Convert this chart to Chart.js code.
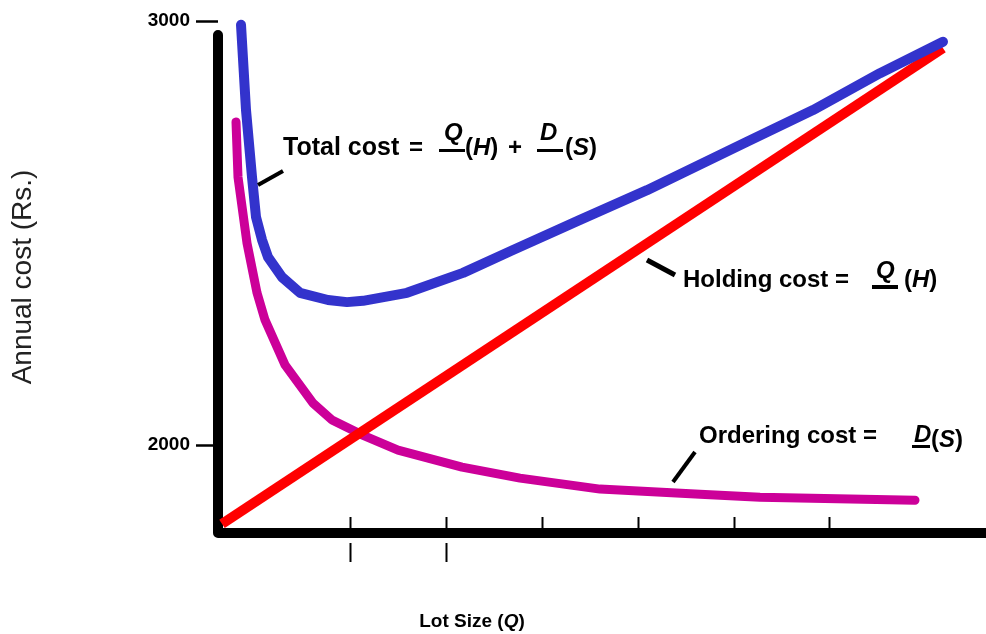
<!DOCTYPE html>
<html><head><meta charset="utf-8">
<script src="https://cdn.jsdelivr.net/npm/chart.js@4/dist/chart.umd.min.js"></script>
<style>html,body{margin:0;padding:0;background:#fff;}#wrap{width:986px;height:634px;}</style>
</head><body><div id="wrap"><canvas id="c" width="986" height="634"></canvas></div>
<script>
// Lot size (arbitrary units along the axis) and annual cost (Rs.)
const totalQ    = [23, 28, 34, 38, 44, 50, 64, 82, 110, 129, 145, 189, 245, 295, 362, 429, 529, 595, 662, 725];
const totalCost = [2991, 2790, 2632, 2538, 2484, 2443, 2396, 2359, 2342, 2337, 2340, 2359, 2406, 2460, 2531, 2601, 2715, 2790, 2877, 2951];
const orderQ    = [18, 20, 29, 39, 47, 67, 95, 114, 144, 180, 244, 302, 382, 482, 542, 697];
const orderCost = [2762, 2632, 2476, 2359, 2295, 2189, 2099, 2059, 2024, 1988, 1948, 1922, 1896, 1884, 1877, 1870];
const holdQ     = [4, 725];
const holdCost  = [1814, 2936];
const yTicks    = [2000, 3000];
const xTicks    = [132, 228, 324, 420, 516, 611];
const xTicksBelow = [132, 228];

const FONT = '"Liberation Sans", Arial, Helvetica, sans-serif';
Chart.defaults.font.family = FONT;

function pts(xs, ys){ return xs.map((x,i)=>({x:x, y:ys[i]})); }

function runs(ctx, x, y, size, parts){
  let cx = x;
  for (const [t, it] of parts){
    ctx.font = (it ? 'italic ' : '') + 'bold ' + size + 'px ' + FONT;
    ctx.fillText(t, cx, y);
    cx += ctx.measureText(t).width;
  }
  return cx;
}
function runsWidth(ctx, size, parts){
  let w = 0;
  for (const [t, it] of parts){
    ctx.font = (it ? 'italic ' : '') + 'bold ' + size + 'px ' + FONT;
    w += ctx.measureText(t).width;
  }
  return w;
}
function seg(ctx, x1, y1, x2, y2, w){
  ctx.lineWidth = w; ctx.beginPath(); ctx.moveTo(x1,y1); ctx.lineTo(x2,y2); ctx.stroke();
}

const axesPlugin = {
  id: 'axesPlugin',
  beforeDatasetsDraw(chart){
    const {ctx, chartArea, scales} = chart;
    const xs = scales.x;
    ctx.save();
    ctx.strokeStyle = '#000';
    ctx.lineWidth = 10; ctx.lineCap = 'round'; ctx.lineJoin = 'round';
    ctx.beginPath();
    ctx.moveTo(chartArea.left, chartArea.top + 14);
    ctx.lineTo(chartArea.left, chartArea.bottom);
    ctx.lineTo(chartArea.right + 10, chartArea.bottom);
    ctx.stroke();
    ctx.lineCap = 'butt';
    for (const v of xTicks){
      const px = Math.round(xs.getPixelForValue(v)) + 0.5;
      seg(ctx, px, chartArea.bottom - 16, px, chartArea.bottom - 4, 2);
    }
    for (const v of xTicksBelow){
      const px = Math.round(xs.getPixelForValue(v)) + 0.5;
      seg(ctx, px, chartArea.bottom + 10, px, chartArea.bottom + 29, 2);
    }
    ctx.restore();
  },
  afterDraw(chart){
    const {ctx} = chart;
    ctx.save();
    ctx.fillStyle = '#000'; ctx.strokeStyle = '#000';
    ctx.textBaseline = 'alphabetic'; ctx.textAlign = 'left';
    ctx.lineCap = 'butt';
    // Total cost
    runs(ctx, 283, 155, 25, [['Total cost', false]]);
    runs(ctx, 409, 155, 24, [['=', false]]);
    ctx.fillRect(439, 149, 26, 3);
    runs(ctx, 444, 140, 24, [['Q', true]]);
    runs(ctx, 465, 155, 24, [['(', false], ['H', true], [')', false]]);
    runs(ctx, 508, 155, 24, [['+', false]]);
    ctx.fillRect(537, 149, 26, 3);
    runs(ctx, 540, 140, 24, [['D', true]]);
    runs(ctx, 565, 155, 24, [['(', false], ['S', true], [')', false]]);
    seg(ctx, 258, 185, 283, 171, 4);
    // Holding cost
    runs(ctx, 683, 287, 24, [['Holding cost =', false]]);
    ctx.fillRect(872, 285, 26, 4);
    runs(ctx, 876, 278, 24, [['Q', true]]);
    runs(ctx, 904, 287, 24, [['(', false], ['H', true], [')', false]]);
    seg(ctx, 647, 260, 675, 275, 5);
    // Ordering cost
    runs(ctx, 699, 443, 24, [['Ordering cost =', false]]);
    ctx.fillRect(912, 445, 18, 3);
    runs(ctx, 914, 442, 24, [['D', true]]);
    runs(ctx, 931, 447, 24, [['(', false], ['S', true], [')', false]]);
    seg(ctx, 673, 482, 695, 452, 4);
    // X axis title
    const lp = [['Lot Size (', false], ['Q', true], [')', false]];
    const w = runsWidth(ctx, 19, lp);
    runs(ctx, 472 - w/2, 627, 19, lp);
    ctx.restore();
  }
};

new Chart(document.getElementById('c'), {
  type: 'line',
  data: {
    datasets: [
      { label: 'Total cost', data: pts(totalQ, totalCost), borderColor: '#3333CC', borderWidth: 10, borderCapStyle: 'round', borderJoinStyle: 'round', pointRadius: 0, tension: 0, clip: false },
      { label: 'Holding cost', data: pts(holdQ, holdCost), borderColor: '#FF0000', borderWidth: 10, borderCapStyle: 'butt', pointRadius: 0, tension: 0, clip: false },
      { label: 'Ordering cost', data: pts(orderQ, orderCost), borderColor: '#CC0099', borderWidth: 9, borderCapStyle: 'round', borderJoinStyle: 'round', pointRadius: 0, tension: 0, clip: false }
    ]
  },
  options: {
    responsive: false,
    animation: false,
    devicePixelRatio: 1,
    layout: { padding: { top: 21, right: 0, bottom: 101, left: 0 } },
    plugins: { legend: { display: false }, tooltip: { enabled: false } },
    scales: {
      x: { type: 'linear', min: 0, max: 768, display: false },
      y: {
        type: 'linear', min: 1792.5, max: 3000,
        afterBuildTicks: s => { s.ticks = yTicks.map(v => ({ value: v })); },
        afterFit: s => { s.width = 218; },
        border: { display: false },
        grid: { drawOnChartArea: false, drawTicks: true, tickLength: 22, tickWidth: 2.5, tickColor: '#000', color: '#000' },
        ticks: { color: '#000', padding: 6, font: { size: 19, weight: 'bold' }, callback: v => String(v) },
        title: { display: true, text: 'Annual cost (Rs.)', color: '#222', font: { size: 28, weight: 'normal' }, padding: { top: 6, bottom: 0 } }
      }
    }
  },
  plugins: [axesPlugin]
});
</script>
</body></html>
